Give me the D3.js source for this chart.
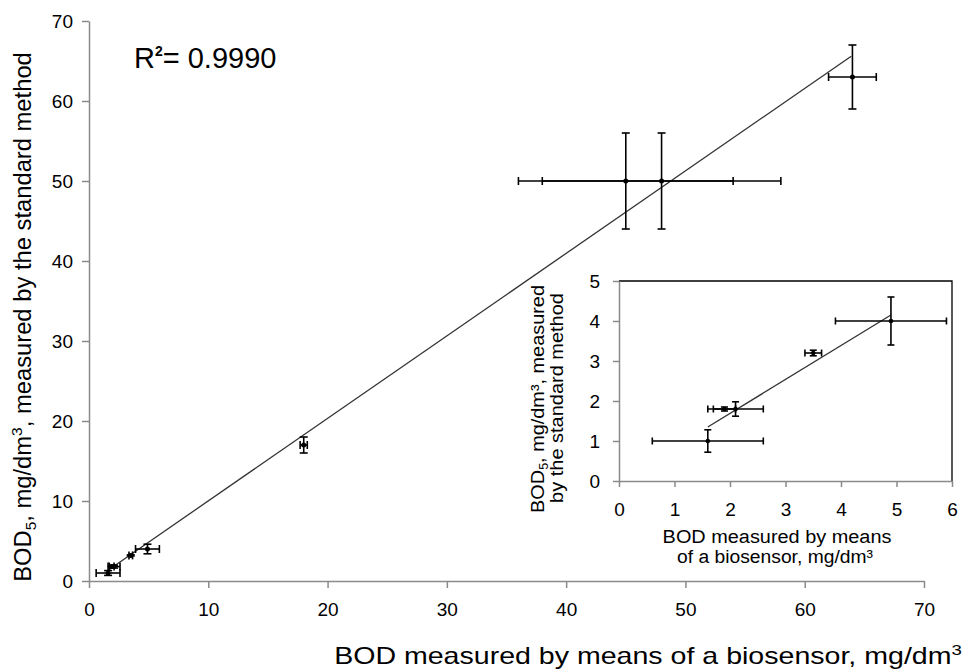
<!DOCTYPE html>
<html><head><meta charset="utf-8">
<script src="https://cdn.jsdelivr.net/npm/d3@7/dist/d3.min.js"></script>
<style>body{margin:0;background:#fff} text{font-family:"Liberation Sans",Arial,sans-serif;fill:#000}</style>
</head><body><svg id="c" width="966" height="670"></svg>
<script>
// ---- data ----
const mainX    = [1.6, 1.9, 2.1, 3.5, 4.9, 18, 45, 48, 64];
const mainY    = [1.0, 1.8, 1.8, 3.2, 4.0, 17, 50, 50, 63];
const mainXErr = [1.0, 0.2, 0.5, 0.15, 1.0, 0.3, 9, 10, 2];
const mainYErr = [0.3, 0.05, 0.18, 0.07, 0.6, 1.0, 6, 6, 4];
const mainTrendX = [1.6, 63.9];
const mainTrendY = [1.35, 65.6];
const mainTicks = [0, 10, 20, 30, 40, 50, 60, 70];

const insetX    = [1.6, 1.9, 2.1, 3.5, 4.9];
const insetY    = [1.0, 1.8, 1.8, 3.2, 4.0];
const insetXErr = [1.0, 0.2, 0.5, 0.15, 1.0];
const insetYErr = [0.28, 0.05, 0.18, 0.07, 0.6];
const insetTrendX = [1.6, 4.9];
const insetTrendY = [1.35, 4.15];
const insetXTicks = [0, 1, 2, 3, 4, 5, 6];
const insetYTicks = [0, 1, 2, 3, 4, 5];
const r2Label = "0.9990";

const svg = d3.select("#c");
const axisColor = "#8a8a8a";

function drawPanel(g, xs, ys, X, Y, XE, YE, TX, TY, cap, r) {
  const data = X.map((v, i) => ({x: v, y: Y[i], xe: XE[i], ye: YE[i]}));
  g.append("line")
    .attr("x1", xs(TX[0])).attr("y1", ys(TY[0]))
    .attr("x2", xs(TX[1])).attr("y2", ys(TY[1]))
    .attr("stroke", "#333").attr("stroke-width", 1.3);
  const eb = g.append("g").attr("stroke", "#000").attr("stroke-width", 1.6).attr("fill", "none");
  data.forEach(d => {
    const cx = xs(d.x), cy = ys(d.y);
    const x0 = xs(d.x - d.xe), x1 = xs(d.x + d.xe);
    const y0 = ys(d.y - d.ye), y1 = ys(d.y + d.ye);
    eb.append("line").attr("x1", x0).attr("x2", x1).attr("y1", cy).attr("y2", cy);
    eb.append("line").attr("x1", x0).attr("x2", x0).attr("y1", cy - cap).attr("y2", cy + cap);
    eb.append("line").attr("x1", x1).attr("x2", x1).attr("y1", cy - cap).attr("y2", cy + cap);
    eb.append("line").attr("x1", cx).attr("x2", cx).attr("y1", y0).attr("y2", y1);
    eb.append("line").attr("x1", cx - cap).attr("x2", cx + cap).attr("y1", y0).attr("y2", y0);
    eb.append("line").attr("x1", cx - cap).attr("x2", cx + cap).attr("y1", y1).attr("y2", y1);
  });
  g.append("g").selectAll("circle").data(data).join("circle")
    .attr("cx", d => xs(d.x)).attr("cy", d => ys(d.y)).attr("r", r).attr("fill", "#000");
}

function styleAxis(sel, fs) {
  sel.select(".domain").attr("stroke", axisColor).attr("stroke-width", 1.5);
  sel.selectAll(".tick line").attr("stroke", axisColor).attr("stroke-width", 1.5);
  sel.selectAll(".tick text").attr("font-size", fs).attr("font-family", "Liberation Sans, Arial, sans-serif").attr("fill", "#000");
}

// stretch a text (inside its own group) along its writing direction to a target width
function fitText(textSel, target) {
  const w = textSel.node().getBBox().width;
  const s = target / w;
  textSel.attr("transform", `scale(${s},1)`);
}

// ---- main chart ----
const x = d3.scaleLinear().domain([0, 70]).range([89, 924]);
const y = d3.scaleLinear().domain([0, 70]).range([581, 21]);

const gx = svg.append("g").attr("transform", `translate(0,${y(0)})`)
  .call(d3.axisBottom(x).tickValues(mainTicks).tickSize(7).tickSizeOuter(0).tickPadding(15));
styleAxis(gx, 19);
const gy = svg.append("g").attr("transform", `translate(${x(0)},0)`)
  .call(d3.axisLeft(y).tickValues(mainTicks).tickSize(7).tickSizeOuter(0).tickPadding(9));
styleAxis(gy, 19);

drawPanel(svg.append("g"), x, y, mainX, mainY, mainXErr, mainYErr, mainTrendX, mainTrendY, 4, 2.5);

// main axis titles
const xtg = svg.append("g").attr("transform", "translate(648,664)");
const xt = xtg.append("text").attr("text-anchor", "middle").attr("font-size", 23);
xt.append("tspan").text("BOD measured by means of a biosensor, mg/dm");
xt.append("tspan").attr("dy", -9).attr("font-size", 15).text("3");
fitText(xt, 628);

const ytg = svg.append("g").attr("transform", "translate(31,317) rotate(-90)");
const yt = ytg.append("text").attr("text-anchor", "middle").attr("font-size", 23);
yt.append("tspan").text("BOD");
yt.append("tspan").attr("dy", 5).attr("font-size", 15).text("5");
yt.append("tspan").attr("dy", -5).text(", mg/dm");
yt.append("tspan").attr("dy", -9).attr("font-size", 15).text("3");
yt.append("tspan").attr("dy", 9).text(", measured by the standard method");
fitText(yt, 530);

// R^2
const rt = svg.append("text").attr("x", 134).attr("y", 68).attr("font-size", 29);
rt.append("tspan").text("R");
rt.append("tspan").attr("dy", -12).attr("font-size", 14).attr("font-weight", "bold").text("2");
rt.append("tspan").attr("dy", 12).text("= " + r2Label);

// ---- inset ----
const ix = d3.scaleLinear().domain([0, 6]).range([619, 952]);
const iy = d3.scaleLinear().domain([0, 5]).range([481, 281]);
const inset = svg.append("g");
inset.append("rect").attr("x", ix(0)).attr("y", iy(5)).attr("width", ix(6) - ix(0)).attr("height", iy(0) - iy(5))
  .attr("fill", "#fff").attr("stroke", "none");
inset.append("path").attr("d", `M${ix(0)},${iy(5)}H${ix(6)}V${iy(0)}`).attr("fill", "none").attr("stroke", "#000").attr("stroke-width", 1.3);
const igx = inset.append("g").attr("transform", `translate(0,${iy(0)})`)
  .call(d3.axisBottom(ix).tickValues(insetXTicks).tickFormat(d3.format("d")).tickSize(6).tickSizeOuter(0).tickPadding(16));
styleAxis(igx, 19);
const igy = inset.append("g").attr("transform", `translate(${ix(0)},0)`)
  .call(d3.axisLeft(iy).tickValues(insetYTicks).tickFormat(d3.format("d")).tickSize(6).tickSizeOuter(0).tickPadding(13));
styleAxis(igy, 19);
drawPanel(inset.append("g"), ix, iy, insetX, insetY, insetXErr, insetYErr, insetTrendX, insetTrendY, 3.5, 2.3);

const l1 = inset.append("g").attr("transform", "translate(777,543)")
  .append("text").attr("text-anchor", "middle").attr("font-size", 19).text("BOD measured by means");
fitText(l1, 229);
const l2 = inset.append("g").attr("transform", "translate(775,563)")
  .append("text").attr("text-anchor", "middle").attr("font-size", 19).text("of a biosensor, mg/dm³");
fitText(l2, 196);

const iyt1 = inset.append("g").attr("transform", "translate(544,399) rotate(-90)")
  .append("text").attr("text-anchor", "middle").attr("font-size", 19);
iyt1.append("tspan").text("BOD");
iyt1.append("tspan").attr("dy", 4).attr("font-size", 12).text("5");
iyt1.append("tspan").attr("dy", -4).text(", mg/dm³, measured");
fitText(iyt1, 228);
const iyt2 = inset.append("g").attr("transform", "translate(563,398) rotate(-90)")
  .append("text").attr("text-anchor", "middle").attr("font-size", 19).text("by the standard method");
fitText(iyt2, 210);
</script></body></html>
